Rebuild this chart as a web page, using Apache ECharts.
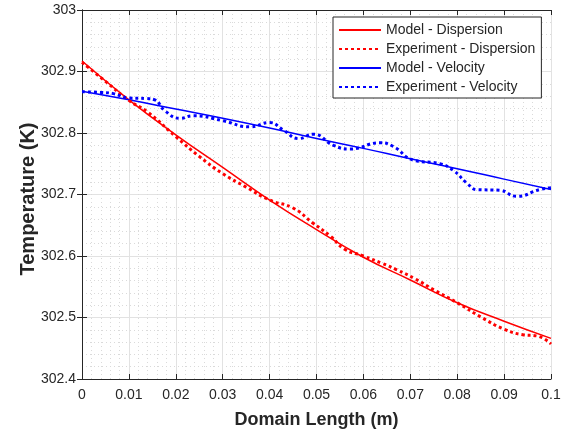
<!DOCTYPE html>
<html>
<head>
<meta charset="utf-8">
<script src="https://cdn.jsdelivr.net/npm/echarts@6/dist/echarts.min.js"></script>
<style>
  html, body { margin: 0; padding: 0; background: #fff; }
  #chart { width: 576px; height: 434px; }
</style>
</head>
<body>
<div id="chart"></div>
<script>
// Temperature profiles along the domain: model vs. experiment
const modelX = [0, 0.01, 0.02, 0.03, 0.04, 0.05, 0.06, 0.07, 0.08, 0.09, 0.1];
const modelDispersion = [302.917, 302.854, 302.797, 302.744, 302.691, 302.643, 302.598, 302.561, 302.524, 302.494, 302.466];
const modelVelocity = [302.868, 302.854, 302.839, 302.824, 302.808, 302.791, 302.775, 302.758, 302.742, 302.725, 302.708];

const expDispX = [0, 0.005, 0.01, 0.014, 0.02, 0.025, 0.03, 0.035, 0.04, 0.045, 0.049, 0.053, 0.056, 0.06, 0.064, 0.067, 0.071, 0.075, 0.08, 0.085, 0.09, 0.094, 0.097, 0.1];
const expDispersion = [302.915, 302.884, 302.853, 302.834, 302.794, 302.762, 302.734, 302.712, 302.691, 302.678, 302.655, 302.632, 302.611, 302.600, 302.588, 302.578, 302.563, 302.545, 302.524, 302.501, 302.481, 302.472, 302.470, 302.457];

const expVelX = [0, 0.004, 0.0067, 0.01, 0.0138, 0.0155, 0.0177, 0.0209, 0.0237, 0.03, 0.0358, 0.04, 0.0429, 0.0462, 0.0493, 0.0536, 0.0571, 0.0635, 0.0664, 0.0706, 0.0763, 0.0792, 0.082, 0.0842, 0.089, 0.0927, 0.0976, 0.1];
const expVelocity = [302.867, 302.866, 302.864, 302.857, 302.856, 302.854, 302.836, 302.824, 302.828, 302.820, 302.810, 302.817, 302.805, 302.791, 302.798, 302.780, 302.774, 302.784, 302.778, 302.756, 302.750, 302.739, 302.719, 302.708, 302.707, 302.697, 302.708, 302.711];

const xTicks = { min: 0, max: 0.1, step: 0.01 };
const yTicks = { min: 302.4, max: 303, step: 0.1 };

const pairs = (xs, ys) => xs.map((x, i) => [x, ys[i]]);

const textColor = '#262626';
const font = 'Liberation Sans, Arial, Helvetica, sans-serif';

const chart = echarts.init(document.getElementById('chart'), null, { renderer: 'canvas' });

const baseAxis = {
  type: 'value',
  axisLine: { show: true, lineStyle: { color: textColor, width: 1 } },
  axisTick: { show: true, inside: true, length: 5, lineStyle: { color: textColor } },
  minorTick: { show: false, splitNumber: 5 },
};

const gridMajor = { show: true, lineStyle: { color: '#e2e2e2', width: 1 } };
const gridMinor = { show: true, lineStyle: { color: '#dadada', width: 1, type: [1, 3] } };

chart.setOption({
  animation: false,
  backgroundColor: '#fff',
  grid: { left: 82, right: 25, top: 10, bottom: 55, containLabel: false },
  legend: {
    orient: 'vertical',
    left: 333,
    top: 17,
    padding: [6, 6, 4, 5],
    itemWidth: 42,
    itemHeight: 14,
    itemGap: 5,
    backgroundColor: '#fff',
    borderColor: textColor,
    borderWidth: 1,
    borderRadius: 0,
    itemStyle: { opacity: 0 },
    textStyle: { fontFamily: font, fontSize: 14, color: textColor },
    data: ['Model - Dispersion', 'Experiment - Dispersion', 'Model - Velocity', 'Experiment - Velocity']
  },
  xAxis: [
    Object.assign({}, baseAxis, {
      min: xTicks.min, max: xTicks.max, interval: xTicks.step,
      position: 'bottom',
      name: 'Domain Length (m)',
      nameLocation: 'middle',
      nameGap: 32,
      nameMoveOverlap: false,
      nameTextStyle: { fontFamily: font, fontSize: 18, fontWeight: 'bold', color: textColor },
      axisLabel: { fontFamily: font, fontSize: 14, color: textColor, margin: 9,
        formatter: v => String(+v.toFixed(3)) },
      splitLine: gridMajor,
      minorSplitLine: gridMinor
    }),
    Object.assign({}, baseAxis, {
      min: xTicks.min, max: xTicks.max, interval: xTicks.step,
      position: 'top',
      axisLabel: { show: false },
      splitLine: { show: false }
    })
  ],
  yAxis: [
    Object.assign({}, baseAxis, {
      min: yTicks.min, max: yTicks.max, interval: yTicks.step,
      position: 'left',
      name: 'Temperature (K)',
      nameLocation: 'middle',
      nameGap: 44,
      nameMoveOverlap: false,
      nameRotate: 90,
      nameTextStyle: { fontFamily: font, fontSize: 20, fontWeight: 'bold', color: textColor,
        padding: [0, 9, 0, 0] },
      axisLabel: { fontFamily: font, fontSize: 14, color: textColor, margin: 6,
        formatter: v => String(+v.toFixed(2)) },
      splitLine: gridMajor,
      minorSplitLine: gridMinor
    }),
    Object.assign({}, baseAxis, {
      min: yTicks.min, max: yTicks.max, interval: yTicks.step,
      position: 'right',
      axisLabel: { show: false },
      splitLine: { show: false }
    })
  ],
  series: [
    {
      name: 'Model - Dispersion', type: 'line', smooth: true, showSymbol: false, symbol: 'none',
      data: pairs(modelX, modelDispersion),
      lineStyle: { color: '#ff0000', width: 1.5 }, itemStyle: { color: '#ff0000' }, z: 3
    },
    {
      name: 'Experiment - Dispersion', type: 'line', smooth: true, showSymbol: false, symbol: 'none',
      data: pairs(expDispX, expDispersion),
      lineStyle: { color: '#ff0000', width: 3, type: [3, 3], cap: 'butt' }, itemStyle: { color: '#ff0000' }, z: 4
    },
    {
      name: 'Model - Velocity', type: 'line', smooth: true, showSymbol: false, symbol: 'none',
      data: pairs(modelX, modelVelocity),
      lineStyle: { color: '#0000ff', width: 1.5 }, itemStyle: { color: '#0000ff' }, z: 3
    },
    {
      name: 'Experiment - Velocity', type: 'line', smooth: true, showSymbol: false, symbol: 'none',
      data: pairs(expVelX, expVelocity),
      lineStyle: { color: '#0000ff', width: 3, type: [3, 3], cap: 'butt' }, itemStyle: { color: '#0000ff' }, z: 4
    }
  ]
});
</script>
</body>
</html>
